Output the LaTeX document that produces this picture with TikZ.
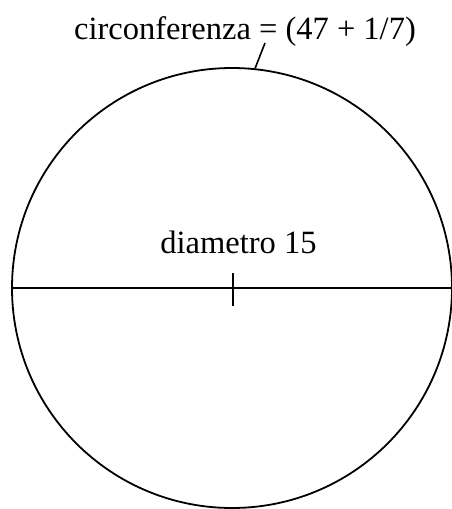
\documentclass[tikz,border=0pt]{standalone}
\usepackage{fontspec}
\setmainfont{Liberation Serif}
\begin{document}
\begin{tikzpicture}[x=1pt,y=-1pt,
  lbl/.style={anchor=base,inner sep=0pt,font=\fontsize{32.5}{39}\selectfont},
  ring/.style={circle,draw,line width=1.8pt,minimum size=440pt,inner sep=0pt},
  dialine/.style={line width=2.2pt}]
\useasboundingbox (0,0) rectangle (451,509);
\node[ring] (c) at (232,288) {};
\node[lbl] (top) at (245,39) {circonferenza = (47 + 1/7)};
\node[lbl] (dia) at (238.5,253) {diametro 15};
\coordinate (lt) at (265,43);
\coordinate (t1) at (233,273);
\coordinate (t2) at (233,306);
\draw[dialine] (c.west) -- (c.east);
\draw[line width=1.6pt] (t1) -- (t2);
\draw[line width=1.6pt] (lt) -- (c.84);
\end{tikzpicture}
\end{document}
